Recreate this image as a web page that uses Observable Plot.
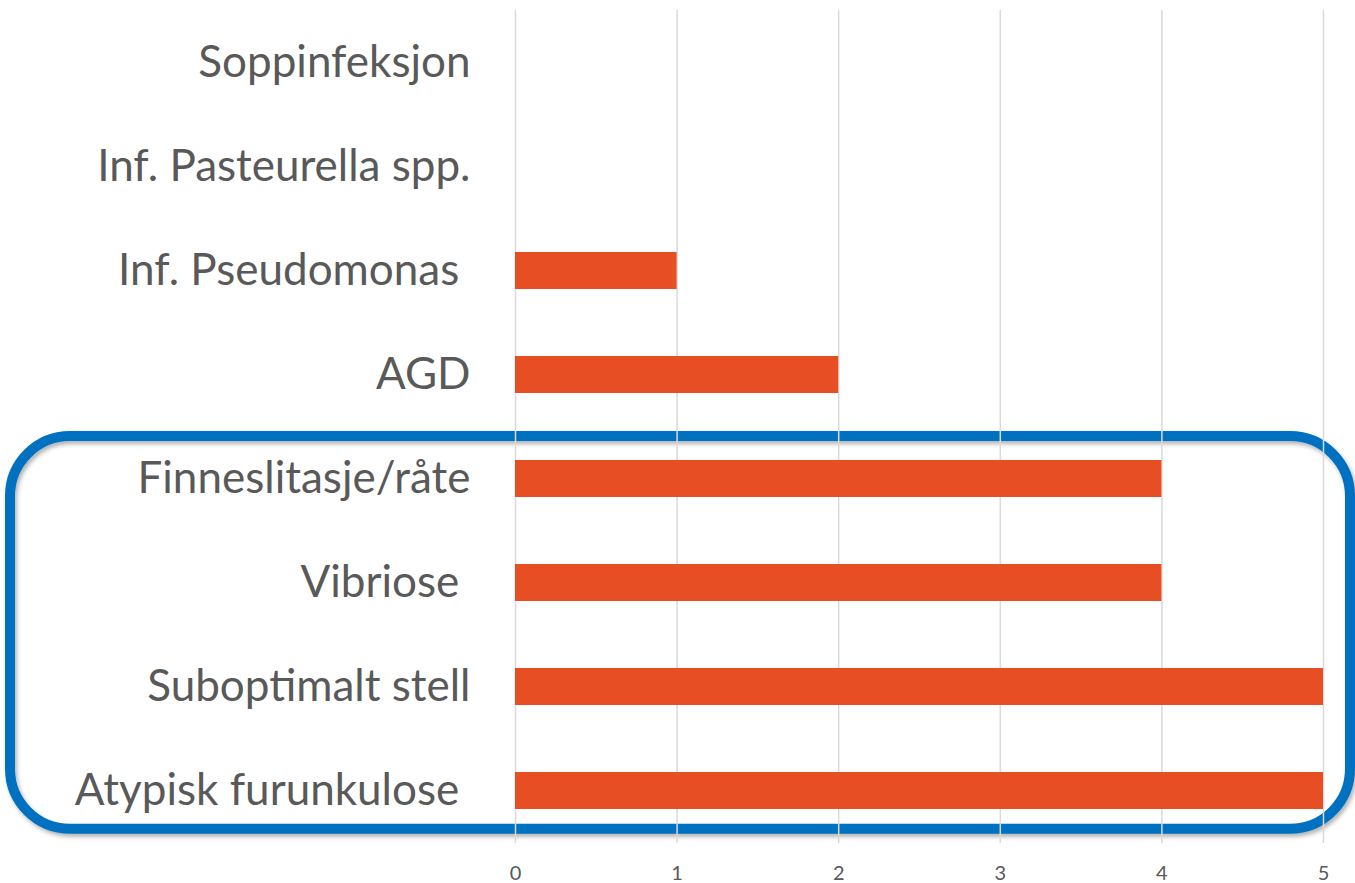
<!DOCTYPE html>
<html>
<head>
<meta charset="utf-8">
<script src="https://cdn.jsdelivr.net/npm/d3@7"></script>
<script src="https://cdn.jsdelivr.net/npm/@observablehq/plot@0.6"></script>
<style>
  html, body { margin: 0; padding: 0; background: #ffffff; }
  #chart { width: 1355px; height: 883px; }
</style>
</head>
<body>
<div id="chart"></div>
<script>
// Categories top to bottom (trailing spaces as in the original labels)
const categories = [
  "Soppinfeksjon",
  "Inf. Pasteurella spp.",
  "Inf. Pseudomonas\u00A0",
  "AGD",
  "Finneslitasje/råte",
  "Vibriose\u00A0",
  "Suboptimalt stell",
  "Atypisk furunkulose\u00A0"
];
const counts = [0, 0, 1, 2, 4, 4, 5, 5];
const xTicks = [0, 1, 2, 3, 4, 5];
const highlighted = ["Finneslitasje/råte", "Atypisk furunkulose\u00A0"]; // first and last of the boxed group

const data = categories.map((c, i) => ({category: c, value: counts[i]}));

const W = 1355, H = 883;
const plot = Plot.plot({
  width: W,
  height: H,
  marginLeft: 515,
  marginRight: 32,
  marginTop: 10,
  marginBottom: 40,
  style: {fontFamily: "Lato, 'Open Sans', sans-serif", color: "#595959", background: "#ffffff", overflow: "visible"},
  x: {domain: [0, 5]},
  y: {domain: categories, paddingInner: 0.644, paddingOuter: 0.322},
  marks: [
    Plot.gridX(xTicks, {stroke: "#d9d9d9", strokeOpacity: 1, strokeWidth: 1.5}),
    Plot.barX(data, {x: "value", y: "category", fill: "#e84e24"}),
    Plot.axisX(xTicks, {tickSize: 0, tickPadding: 22, fontSize: 20, label: null, tickFormat: d => String(d)}),
    Plot.axisY({tickSize: 0, tickPadding: 45, fontSize: 44, label: null})
  ]
});

document.getElementById("chart").appendChild(plot);

// Rounded highlight box around the lower group, positioned from the y scale
const ys = plot.scale("y");
const step = ys.step, bw = ys.bandwidth;
const yTop = ys.apply(highlighted[0]) - 0.23 * step;
const yBot = ys.apply(highlighted[1]) + bw + 0.19 * step;
const svg = d3.select(plot);
const defs = svg.insert("defs", ":first-child");
const f = defs.append("filter").attr("id", "boxshadow").attr("x", "-5%").attr("y", "-5%").attr("width", "110%").attr("height", "115%");
f.append("feDropShadow").attr("dx", 2).attr("dy", 3).attr("stdDeviation", 2).attr("flood-color", "#000").attr("flood-opacity", 0.3);
svg.insert("g", "g")
  .append("rect")
  .attr("x", 10)
  .attr("y", yTop)
  .attr("width", W - 5 - 10)
  .attr("height", yBot - yTop)
  .attr("rx", 60)
  .attr("ry", 60)
  .attr("fill", "none")
  .attr("stroke", "#0070c0")
  .attr("stroke-width", 10)
  .attr("filter", "url(#boxshadow)");
</script>
</body>
</html>
